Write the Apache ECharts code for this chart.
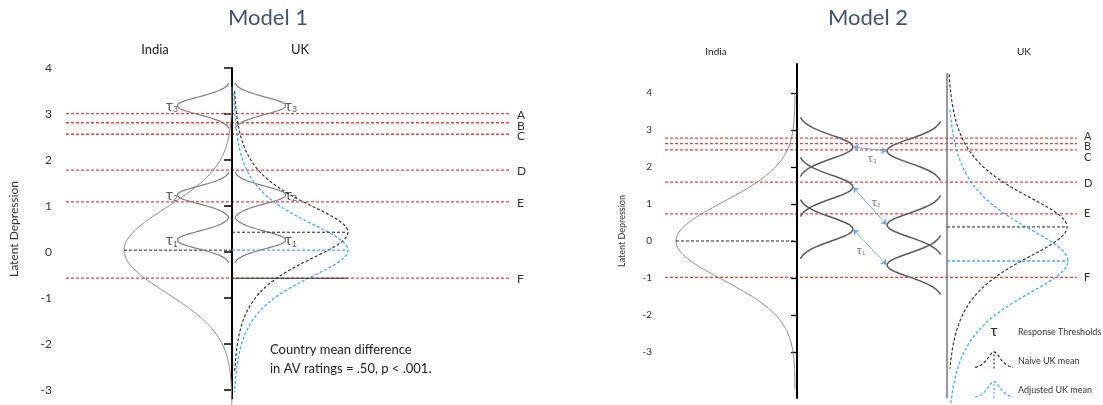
<!DOCTYPE html>
<html>
<head>
<meta charset="utf-8">
<script src="https://cdn.jsdelivr.net/npm/echarts@6/dist/echarts.min.js"></script>
<style>html,body{margin:0;background:#fff}#main{width:1103px;height:405px}</style>
</head>
<body>
<div id="main"></div>
<script>
// tick values of the latent scale
var yTicks = [-3, -2, -1, 0, 1, 2, 3, 4];
var cutLetters = ['A', 'B', 'C', 'D', 'E', 'F'];

// Model 1 (latent depression units)
var m1Cuts = [3.01, 2.81, 2.56, 1.78, 1.09, -0.57];
var m1India = { mean: 0.04, sd: 0.93, peak: 1.08, top: 3.6, bottom: -3.35 };
var m1Tau = [3.18, 1.24, 0.26];          // tau3, tau2, tau1 - same in both countries
var m1TauPeak = [0.54, 0.53];            // india side, uk side
var m1UkNaive = { mean: 0.43, s: 0.615, peak: 1.15, top: 3.5, bottom: -2.6 };
var m1UkAdj = { mean: 0.04, s: 0.62, peak: 1.15, top: 3.45, bottom: -3.05 };

// Model 2
var m2Cuts = [2.78, 2.63, 2.46, 1.59, 0.73, -0.98];
var m2India = { mean: 0, sd: 1.05, peak: 1.19, top: 4.0, bottom: -4.0 };
var m2TauIndia = [2.54, 1.46, 0.32];     // tau3, tau2, tau1
var m2TauUk = [2.43, 0.43, -0.65];
var m2TauPeak = [0.55, 0.56];
var m2UkNaive = { mean: 0.38, s: 0.87, peak: 1.2, top: 4.5, bottom: -3.45 };
var m2UkAdj = { mean: -0.54, s: 0.93, peak: 1.21, top: 3.55, bottom: -4.4 };

var FONT = 'Lato, "Open Sans", sans-serif';
var RED = '#ff3a3a', GREY = '#8a8a8a', BLUE = '#36b2ee';

// density shape sampled along the latent axis
function bell(kind, mean, spread, from, to) {
  var pts = [];
  var n = Math.round(Math.abs(to - from) / 0.02);
  for (var i = 0; i <= n; i++) {
    var v = from + (to - from) * i / n;
    var d = (v - mean) / spread;
    pts.push([v, kind === 'normal' ? Math.exp(-d * d / 2) : 1 / Math.cosh(d)]);
  }
  return pts;
}
// turn it sideways: x = base + height * density
function place(pts, base, height) {
  return pts.map(function (p) { return [base + height * p[1], p[0]]; });
}

function line(ax, data, style, extra) {
  var s = {
    type: 'line', xAxisIndex: ax, yAxisIndex: ax, data: data,
    symbol: 'none', showSymbol: false, clip: false, silent: true,
    lineStyle: style, z: 3
  };
  for (var k in extra) s[k] = extra[k];
  return s;
}

var series = [];

function cutLines(ax, cuts, x0, x1, dys) {
  cuts.forEach(function (c, i) {
    series.push(line(ax, [[x0, c], [x1, c]], { color: RED, width: 1.3, type: [3, 2] }, {
      z: 2,
      endLabel: { show: true, formatter: cutLetters[i], distance: 7, offset: [0, dys[i]],
        color: '#333', fontSize: ax === 0 ? 12 : 11, fontFamily: FONT }
    }));
  });
}

function tauLabel(i, n) { return '{t|\u03c4}{s|' + (n - i) + '}'; }

// ---------- Model 1 ----------
cutLines(0, m1Cuts, -1.66, 2.78, [2, 3, 2, 1, 1, 1]);
series.push(line(0, [[0, 3.92], [0, -3.2]], { color: '#000', width: 2 }));
series.push(line(0, place(bell('normal', m1India.mean, m1India.sd, m1India.top, m1India.bottom), 0, -m1India.peak),
  { color: GREY, width: 1 }));
series.push(line(0, [[-m1India.peak, m1India.mean], [0, m1India.mean]], { color: '#222', width: 1, type: [3, 2] }));
m1Tau.forEach(function (m) {
  series.push(line(0, place(bell('normal', m, 0.19, m + 0.49, m - 0.49), -0.01, -m1TauPeak[0]), { color: '#7f7f7f', width: 1.2 }));
  series.push(line(0, place(bell('normal', m, 0.19, m + 0.49, m - 0.49), 0.01, m1TauPeak[1]), { color: '#7f7f7f', width: 1.2 }));
});
series.push(line(0, place(bell('sech', m1UkNaive.mean, m1UkNaive.s, m1UkNaive.top, m1UkNaive.bottom), 0.01, m1UkNaive.peak),
  { color: '#333', width: 1.2, type: [3, 2] }));
series.push(line(0, place(bell('sech', m1UkAdj.mean, m1UkAdj.s, m1UkAdj.top, m1UkAdj.bottom), 0.01, m1UkAdj.peak),
  { color: BLUE, width: 1.3, type: [3, 2] }));
series.push(line(0, [[0, m1UkNaive.mean], [m1UkNaive.peak, m1UkNaive.mean]], { color: '#222', width: 1, type: [3, 2] }));
series.push(line(0, [[0, m1UkAdj.mean], [m1UkAdj.peak, m1UkAdj.mean]], { color: BLUE, width: 1.2, type: [3, 2] }));
series.push(line(0, [[0, m1Cuts[5]], [m1UkNaive.peak + 0.01, m1Cuts[5]]], { color: '#333', width: 1 }));

var tauRich = { t: { fontSize: 15, color: '#333', fontFamily: FONT }, s: { fontSize: 9, color: '#333', padding: [8, 0, 0, 0] } };
series.push({
  type: 'scatter', xAxisIndex: 0, yAxisIndex: 0, symbolSize: 0, silent: true,
  data: m1Tau.map(function (m, i) { return { value: [-m1TauPeak[0], m], label: { position: 'left', formatter: tauLabel(i, 3) } }; })
    .concat(m1Tau.map(function (m, i) { return { value: [m1TauPeak[1], m], label: { position: 'right', formatter: tauLabel(i, 3) } }; })),
  label: { show: true, distance: 0, rich: tauRich }
});

// ---------- Model 2 ----------
cutLines(1, m2Cuts, -1.32, 2.80, [-2, 3, 8, 1, -1, 0]);
series.push(line(1, [[0, 4.54], [0, -4.24]], { color: '#000', width: 2 }));
series.push(line(1, [[1.5, 4.54], [1.5, -4.24]], { color: '#777', width: 1.5 }));
series.push(line(1, place(bell('normal', m2India.mean, m2India.sd, m2India.top, m2India.bottom), -0.02, -m2India.peak),
  { color: GREY, width: 1 }));
series.push(line(1, [[-0.02 - m2India.peak, m2India.mean], [-0.02, m2India.mean]], { color: '#222', width: 1, type: [3, 2] }));
m2TauIndia.forEach(function (m) {
  series.push(line(1, place(bell('normal', m, 0.32, m + 0.8, m - 0.8), 0.01, m2TauPeak[0]), { color: '#595959', width: 1.5 }));
});
m2TauUk.forEach(function (m) {
  series.push(line(1, place(bell('normal', m, 0.32, m + 0.8, m - 0.8), 1.46, -m2TauPeak[1]), { color: '#595959', width: 1.5 }));
});
var arrows = m2TauIndia.map(function (m, i) {
  return { coords: [[0.01 + m2TauPeak[0], m], [1.46 - m2TauPeak[1], m2TauUk[i]]] };
});
series.push({
  type: 'lines', coordinateSystem: 'cartesian2d', xAxisIndex: 1, yAxisIndex: 1, silent: true,
  symbol: ['arrow', 'arrow'], symbolSize: 6, z: 4,
  lineStyle: { color: '#7ea6dc', width: 1, opacity: 1, curveness: 0 },
  data: arrows
});
var tauOffsets = [[2, 9], [6, -4], [-9, 3]];
series.push({
  type: 'scatter', xAxisIndex: 1, yAxisIndex: 1, symbolSize: 0, silent: true,
  data: arrows.map(function (a, i) {
    return { value: [(a.coords[0][0] + a.coords[1][0]) / 2, (a.coords[0][1] + a.coords[1][1]) / 2],
      label: { formatter: tauLabel(i, 3), offset: tauOffsets[i] } };
  }),
  label: { show: true, position: 'inside', rich: {
    t: { fontSize: 11, color: '#555', fontFamily: FONT }, s: { fontSize: 6, color: '#555', padding: [6, 0, 0, 0] } } }
});
series.push(line(1, place(bell('sech', m2UkNaive.mean, m2UkNaive.s, m2UkNaive.top, m2UkNaive.bottom), 1.5, m2UkNaive.peak),
  { color: '#333', width: 1.2, type: [3, 2] }));
series.push(line(1, place(bell('sech', m2UkAdj.mean, m2UkAdj.s, m2UkAdj.top, m2UkAdj.bottom), 1.5, m2UkAdj.peak),
  { color: BLUE, width: 1.3, type: [3, 2] }));
series.push(line(1, [[1.5, m2UkNaive.mean], [1.5 + m2UkNaive.peak, m2UkNaive.mean]], { color: '#222', width: 1, type: [3, 2] }));
series.push(line(1, [[1.5, m2UkAdj.mean], [1.5 + m2UkAdj.peak, m2UkAdj.mean]], { color: BLUE, width: 1.3, type: [3, 2] }));

// legend glyphs (small bells with a dashed mean marker)
function glyph(base, color) {
  var pts = [];
  for (var i = 0; i <= 40; i++) { var u = -1 + i / 20; pts.push([u, base + 0.6 / Math.cosh(u / 0.3)]); }
  series.push(line(2, pts, { color: color, width: 1.2, type: [3, 2] }));
  series.push(line(2, [[0, base], [0, base + 0.6]], { color: color, width: 1.2, type: [2, 2] }));
}
glyph(1.16, '#333');
glyph(0.1, BLUE);

var myChart = echarts.init(document.getElementById('main'));
myChart.setOption({
  animation: false,
  grid: [
    { left: 66, top: 68, width: 449, height: 322 },
    { left: 665, top: 64, width: 415, height: 334 },
    { left: 975, top: 345, width: 38, height: 56 }
  ],
  xAxis: [
    { gridIndex: 0, type: 'value', min: -1.66, max: 2.83, show: false },
    { gridIndex: 1, type: 'value', min: -1.32, max: 2.83, show: false },
    { gridIndex: 2, type: 'value', min: -1, max: 1, show: false }
  ],
  yAxis: [
    { gridIndex: 0, type: 'value', min: -3, max: 4, interval: 1,
      axisLine: { show: true, lineStyle: { color: '#000', width: 2 } },
      axisTick: { show: true, length: 8, lineStyle: { color: '#000', width: 1.5 } },
      axisLabel: { fontSize: 12, color: '#333', margin: 14, fontFamily: FONT },
      splitLine: { show: false },
      name: 'Latent Depression', nameLocation: 'middle', nameGap: 46,
      nameTextStyle: { fontSize: 12, color: '#333', fontFamily: FONT } },
    { gridIndex: 1, type: 'value', min: -4.24, max: 4.78,
      axisLine: { show: true, lineStyle: { color: '#000', width: 2 } },
      axisTick: { show: true, length: 6, customValues: yTicks, lineStyle: { color: '#000', width: 1.3 } },
      axisLabel: { fontSize: 10, color: '#333', margin: 13, customValues: yTicks, fontFamily: FONT },
      splitLine: { show: false },
      name: 'Latent Depression', nameLocation: 'middle', nameGap: 38,
      nameTextStyle: { fontSize: 9, color: '#333', fontFamily: FONT } },
    { gridIndex: 2, type: 'value', min: 0, max: 2, show: false }
  ],
  graphic: [
    { type: 'text', x: 268, y: 18, style: { text: 'Model 1', font: '22px ' + FONT, fill: '#44546a', textAlign: 'center', textVerticalAlign: 'middle' } },
    { type: 'text', x: 868, y: 18, style: { text: 'Model 2', font: '22px ' + FONT, fill: '#44546a', textAlign: 'center', textVerticalAlign: 'middle' } },
    { type: 'text', x: 155, y: 50, style: { text: 'India', font: '13px ' + FONT, fill: '#222', textAlign: 'center', textVerticalAlign: 'middle' } },
    { type: 'text', x: 300, y: 50, style: { text: 'UK', font: '13px ' + FONT, fill: '#222', textAlign: 'center', textVerticalAlign: 'middle' } },
    { type: 'text', x: 716, y: 52, style: { text: 'India', font: '10px ' + FONT, fill: '#222', textAlign: 'center', textVerticalAlign: 'middle' } },
    { type: 'text', x: 1024, y: 52, style: { text: 'UK', font: '10px ' + FONT, fill: '#222', textAlign: 'center', textVerticalAlign: 'middle' } },
    { type: 'text', x: 270, y: 350, style: { text: 'Country mean difference', font: '13px ' + FONT, fill: '#222', textVerticalAlign: 'middle' } },
    { type: 'text', x: 270, y: 369, style: { text: 'in AV ratings = .50, p < .001.', font: '13px ' + FONT, fill: '#222', textVerticalAlign: 'middle' } },
    { type: 'text', x: 994, y: 331, style: { text: '\u03c4', font: '15px ' + FONT, fill: '#222', textAlign: 'center', textVerticalAlign: 'middle' } },
    { type: 'text', x: 1018, y: 332, style: { text: 'Response Thresholds', font: '9px ' + FONT, fill: '#333', textVerticalAlign: 'middle' } },
    { type: 'text', x: 1018, y: 361, style: { text: 'Naive UK mean', font: '9px ' + FONT, fill: '#333', textVerticalAlign: 'middle' } },
    { type: 'text', x: 1018, y: 390, style: { text: 'Adjusted UK mean', font: '9px ' + FONT, fill: '#333', textVerticalAlign: 'middle' } }
  ],
  series: series
});
</script>
</body>
</html>
